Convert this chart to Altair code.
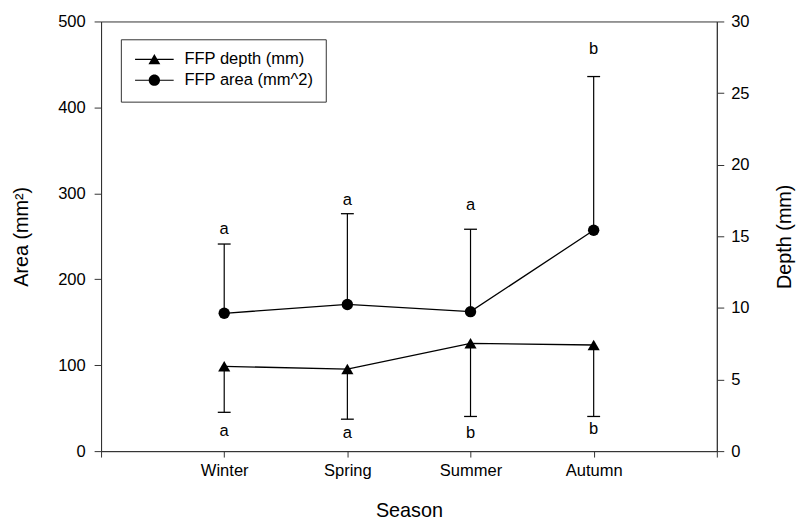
import altair as alt
import pandas as pd

# ---- data ----
seasons = ["Winter", "Spring", "Summer", "Autumn"]
season_pos = [1, 2, 3, 4]

area_mean = [160.4, 170.7, 162.3, 257.0]
area_upper = [241.0, 276.3, 258.2, 435.9]
area_letters = ["a", "a", "a", "b"]
area_letter_y = [259.0, 291.6, 285.9, 467.4]

depth_mean = [5.92, 5.73, 7.53, 7.41]
depth_lower = [2.71, 2.23, 2.42, 2.42]
depth_letters = ["a", "a", "b", "b"]
depth_letter_y = [1.42, 1.26, 1.26, 1.56]

legend_labels = ["FFP depth (mm)", "FFP area (mm^2)"]
area_ticks = [0, 100, 200, 300, 400, 500]
depth_ticks = [0, 5, 10, 15, 20, 25, 30]

FONT = "Liberation Sans"
AX = "#333333"

df = pd.DataFrame({
    "pos": season_pos,
    "season": seasons,
    "area": area_mean,
    "area_upper": area_upper,
    "area_letter": area_letters,
    "area_letter_y": area_letter_y,
    "depth": depth_mean,
    "depth_lower": depth_lower,
    "depth_letter": depth_letters,
    "depth_letter_y": depth_letter_y,
})

label_expr = " : ".join(
    f"datum.value == {p} ? '{s}'" for p, s in zip(season_pos, seasons)
) + " : ''"

x_axis = alt.Axis(
    values=[0, 1, 2, 3, 4, 5], labelExpr=label_expr, title="Season",
    titleFontSize=20, titlePadding=21, labelPadding=6, tickSize=6,
    grid=False,
)
x_scale = alt.Scale(domain=[0, 5], nice=False, zero=False)


def X():
    return alt.X("pos:Q", scale=x_scale, axis=x_axis)


area_scale = alt.Scale(domain=[0, 500], nice=False)
area_axis = alt.Axis(
    orient="left", values=area_ticks, title="Area (mm²)", titleFontSize=20,
    titlePadding=26, tickSize=7, labelPadding=9, grid=False,
)
depth_scale = alt.Scale(domain=[0, 30], nice=False)
depth_axis = alt.Axis(
    orient="right", values=depth_ticks, title="Depth (mm)", titleFontSize=20,
    titleAngle=270, titleBaseline="top", titlePadding=26, tickSize=7,
    labelPadding=7, grid=False,
)


def YA(field):
    return alt.Y(field, scale=area_scale, axis=area_axis)


def YD(field):
    return alt.Y(field, scale=depth_scale, axis=depth_axis)


base = alt.Chart(df)
cap_path = "M-1,0H1"

area_layer = alt.layer(
    base.mark_rule(color="black", strokeWidth=1.2).encode(
        x=X(), y=YA("area:Q"), y2="area_upper:Q"),
    base.mark_point(shape=cap_path, size=169, color="black", strokeWidth=1.3,
                    filled=False, opacity=1).encode(x=X(), y=YA("area_upper:Q")),
    base.mark_line(color="black", strokeWidth=1.3).encode(x=X(), y=YA("area:Q")),
    base.mark_point(shape="circle", size=132, filled=True, color="black",
                    opacity=1).encode(x=X(), y=YA("area:Q")),
    base.mark_text(font=FONT, fontSize=16.7, color="black", baseline="middle").encode(
        x=X(), y=YA("area_letter_y:Q"), text="area_letter:N"),
)

depth_layer = alt.layer(
    base.mark_rule(color="black", strokeWidth=1.2).encode(
        x=X(), y=YD("depth:Q"), y2="depth_lower:Q"),
    base.mark_point(shape=cap_path, size=169, color="black", strokeWidth=1.3,
                    filled=False, opacity=1).encode(x=X(), y=YD("depth_lower:Q")),
    base.mark_line(color="black", strokeWidth=1.3).encode(x=X(), y=YD("depth:Q")),
    base.mark_point(shape="triangle-up", size=150, filled=True, color="black",
                    opacity=1).encode(x=X(), y=YD("depth:Q")),
    base.mark_text(font=FONT, fontSize=16.7, color="black", baseline="middle").encode(
        x=X(), y=YD("depth_letter_y:Q"), text="depth_letter:N"),
)

# legend glyphs: a thin filled bar (the line) plus the marker, all clockwise
bar = "M-3.25,-0.1H3.25V0.1H-3.25Z"
tri_path = bar + "M0,-0.9L1,0.82L-1,0.82Z"
circ_path = bar + "M0.95,0A0.95,0.95,0,1,1,-0.95,0A0.95,0.95,0,1,1,0.95,0Z"

legend_df = pd.DataFrame({"series": legend_labels})
legend_layer = alt.Chart(legend_df).mark_point(
    filled=True, color="black", opacity=0
).encode(
    shape=alt.Shape(
        "series:N",
        scale=alt.Scale(domain=legend_labels, range=[tri_path, circ_path]),
        legend=alt.Legend(
            title=None, orient="none", legendX=20, legendY=18,
            strokeColor=AX, padding=12, symbolSize=144, symbolOpacity=1,
            symbolFillColor="black", symbolStrokeColor="black",
            symbolStrokeWidth=0.5, symbolOffset=13.5, labelFont=FONT,
            labelFontSize=16.7, labelColor="black", labelOffset=22,
            rowPadding=3,
        ),
    )
)

chart = alt.layer(area_layer, depth_layer, legend_layer).resolve_scale(
    y="independent"
).properties(
    width=622, height=434,
    padding={"left": 94, "top": 11, "right": 83, "bottom": 70},
    autosize=alt.AutoSizeParams(type="none"),
    background="white",
).configure_view(
    stroke=AX, strokeWidth=1
).configure_axis(
    labelFont=FONT, titleFont=FONT, labelFontSize=16.7, labelColor="black",
    titleColor="black", titleFontWeight="normal", domainColor=AX,
    tickColor=AX, domainWidth=1, tickWidth=1,
)

chart.save("out.html", embed_options={"renderer": "svg", "actions": False})
